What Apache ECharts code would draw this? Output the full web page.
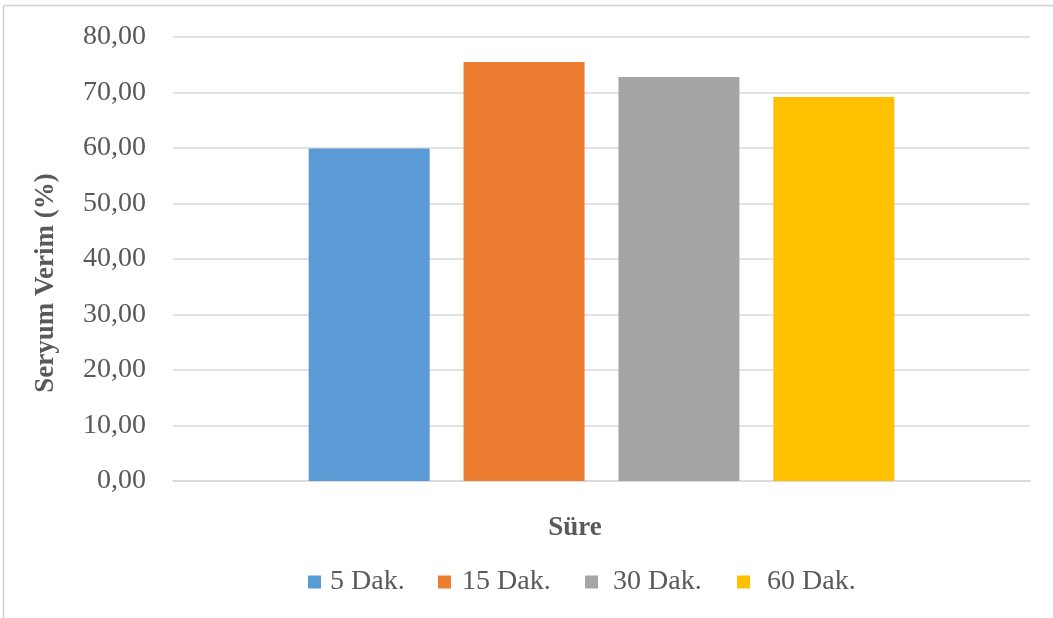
<!DOCTYPE html>
<html>
<head>
<meta charset="utf-8">
<script src="https://cdn.jsdelivr.net/npm/echarts@6/dist/echarts.min.js"></script>
<style>
  html, body { margin: 0; padding: 0; background: #ffffff; }
  #chart { width: 1053px; height: 618px; }
</style>
</head>
<body>
<div id="chart"></div>
<script>
// Cerium yield by reaction time
const categories = ['Süre'];
const seriesNames = ['5 Dak.', '15 Dak.', '30 Dak.', '60 Dak.'];
const seriesValues = [59.9, 75.5, 72.8, 69.2];
const seriesColors = ['#5b9bd5', '#ed7d31', '#a5a5a5', '#ffc000'];
const yTicks = { min: 0, max: 80, interval: 10 };

const FONT = '"Liberation Serif", "Times New Roman", serif';
const TEXT = '#595959';

// legend entries are laid out one by one along the bottom row
const legendLeft = [303, 433, 580, 732];
const legendTextPad = [4, 6, 10, 12];

const chart = echarts.init(document.getElementById('chart'));

chart.setOption({
  backgroundColor: '#ffffff',
  animation: false,
  textStyle: { fontFamily: FONT },
  title: {
    text: 'Süre',
    left: 570,
    top: 510,
    textAlign: 'center',
    textStyle: { fontFamily: FONT, fontSize: 27, fontWeight: 'bold', color: TEXT }
  },
  graphic: [
    { type: 'line', shape: { x1: 3.5, y1: 5.5, x2: 1053, y2: 5.5 }, style: { stroke: '#d0d0d0', lineWidth: 1.5 } },
    { type: 'line', shape: { x1: 3.5, y1: 5.5, x2: 3.5, y2: 618 }, style: { stroke: '#d0d0d0', lineWidth: 1.5 } }
  ],
  legend: seriesNames.map((name, i) => ({
    data: [name],
    left: legendLeft[i],
    top: 563,
    itemWidth: 13,
    itemHeight: 13,
    icon: 'rect',
    textStyle: { fontFamily: FONT, fontSize: 28, color: TEXT, padding: [0, 0, 0, legendTextPad[i]] }
  })),
  grid: { left: 173, right: 23, top: 37, bottom: 137 },
  xAxis: {
    type: 'category',
    data: categories,
    axisLine: { show: true, lineStyle: { color: '#d9d9d9', width: 1.5 } },
    axisTick: { show: false },
    axisLabel: { show: false }
  },
  yAxis: {
    type: 'value',
    min: yTicks.min,
    max: yTicks.max,
    interval: yTicks.interval,
    name: 'Seryum Verim (%)',
    nameLocation: 'middle',
    nameGap: 113,
    nameTextStyle: { fontFamily: FONT, fontSize: 27, fontWeight: 'bold', color: TEXT, padding: [0, 48, 0, 0] },
    axisLine: { show: false },
    axisTick: { show: false },
    axisLabel: {
      fontFamily: FONT, fontSize: 28, color: TEXT, margin: 27,
      formatter: v => v.toFixed(2).replace('.', ',')
    },
    splitLine: { lineStyle: { color: '#d9d9d9', width: 1.5 } }
  },
  series: seriesNames.map((name, i) => ({
    name,
    type: 'bar',
    barWidth: 121,
    barGap: '28%',
    itemStyle: { color: seriesColors[i] },
    data: [seriesValues[i]]
  }))
});
</script>
</body>
</html>
